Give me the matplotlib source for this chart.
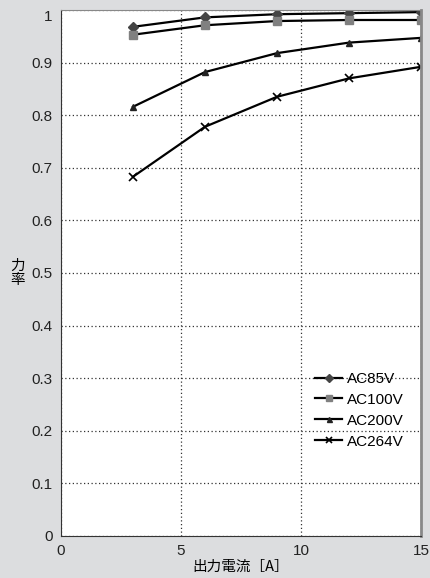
import matplotlib.pyplot as plt

plt.rcParams['font.family'] = ['Liberation Sans', 'Noto Sans CJK JP']

current = [3, 6, 9, 12, 15]
pf_85 = [0.968, 0.986, 0.992, 0.994, 0.996]
pf_100 = [0.953, 0.971, 0.979, 0.981, 0.981]
pf_200 = [0.816, 0.882, 0.918, 0.938, 0.947]
pf_264 = [0.683, 0.778, 0.835, 0.870, 0.892]

bg = '#dcdddf'
fig = plt.figure(figsize=(4.31, 5.78), dpi=100, facecolor=bg)
ax = fig.add_axes([0.1415, 0.0727, 0.8353, 0.91])
ax.set_facecolor('white')

ax.plot(current, pf_85, color='black', lw=1.6, marker='D', ms=5,
        mfc='#444444', mec='#444444', label='AC85V')
ax.plot(current, pf_100, color='black', lw=1.6, marker='s', ms=6,
        mfc='#808080', mec='#808080', label='AC100V')
ax.plot(current, pf_200, color='black', lw=1.6, marker='^', ms=4.5,
        mfc='#222222', mec='#222222', label='AC200V')
ax.plot(current, pf_264, color='black', lw=1.6, marker='x', ms=6,
        mew=1.2, label='AC264V')

ax.set_xlim(0, 15)
ax.set_ylim(0, 1)
ax.set_xticks([0, 5, 10, 15])
ax.set_yticks([0, 0.1, 0.2, 0.3, 0.4, 0.5, 0.6, 0.7, 0.8, 0.9, 1])
ax.set_yticklabels(['0', '0.1', '0.2', '0.3', '0.4', '0.5', '0.6', '0.7',
                    '0.8', '0.9', '1'])
ax.get_yticklabels()[-1].set_va('top')
ax.tick_params(length=0, labelsize=11, colors='#222222', pad=6)
ax.grid(True, color='#333333', linestyle=(0, (1, 2)), lw=0.9)

ax.spines['left'].set_color('#333333')
ax.spines['bottom'].set_color('#333333')
ax.spines['top'].set_color('#888888')
ax.spines['top'].set_linewidth(0.8)
ax.spines['right'].set_color('#888888')
ax.spines['right'].set_linewidth(2)

ax.set_xlabel('出力電流［A］', fontsize=10.5, labelpad=1,
              family=['Noto Sans CJK JP', 'DejaVu Sans'])
ax.text(-0.12, 0.5, '力\n率', transform=ax.transAxes, fontsize=10.5,
        ha='center', va='center', linespacing=1.0,
        family=['Noto Sans CJK JP', 'DejaVu Sans'])

leg = ax.legend(loc='lower right', bbox_to_anchor=(0.99, 0.14), frameon=False,
                fontsize=11, handlelength=1.8, handletextpad=0.3,
                labelspacing=0.45, markerscale=0.8)

fig.savefig('out.png', dpi=100, facecolor=bg)
